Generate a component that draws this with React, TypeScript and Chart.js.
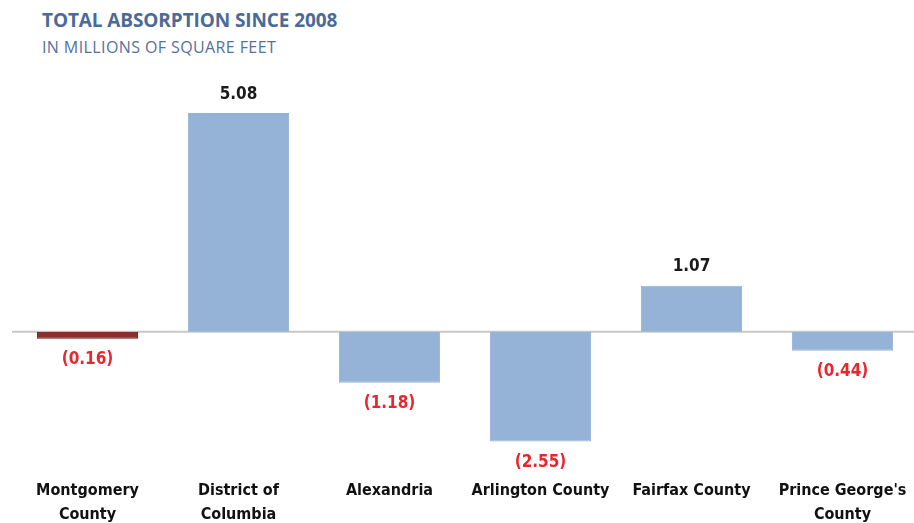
import React, { useEffect, useRef } from "react";
import { Chart, registerables } from "chart.js";

Chart.register(...registerables);

const categories: string[][] = [
  ["Montgomery", "County"],
  ["District of", "Columbia"],
  ["Alexandria"],
  ["Arlington County"],
  ["Fairfax County"],
  ["Prince George's", "County"],
];
const absorption: number[] = [-0.16, 5.08, -1.18, -2.55, 1.07, -0.44];
const barColors: string[] = ["#8C2E2C", "#95B3D7", "#95B3D7", "#95B3D7", "#95B3D7", "#95B3D7"];
const borderColors: string[] = ["#5E1B1A", "#95B3D7", "#95B3D7", "#95B3D7", "#95B3D7", "#95B3D7"];
const titleText = "TOTAL ABSORPTION SINCE 2008";
const subtitleText = "IN MILLIONS OF SQUARE FEET";

const FONT = "'Liberation Sans Narrow', 'DejaVu Sans Condensed', 'Liberation Sans', sans-serif";

const fmt = (v: number) => (v < 0 ? `(${Math.abs(v).toFixed(2)})` : v.toFixed(2));

const zeroLinePlugin = {
  id: "zeroLine",
  beforeDatasetsDraw(chart: any) {
    const { ctx, chartArea, scales } = chart;
    const y = scales.y.getPixelForValue(0);
    ctx.save();
    ctx.strokeStyle = "#C8C8C8";
    ctx.lineWidth = 2;
    ctx.beginPath();
    ctx.moveTo(chartArea.left, y);
    ctx.lineTo(chart.width, y);
    ctx.stroke();
    ctx.restore();
  },
};

const valueLabelPlugin = {
  id: "valueLabels",
  afterDatasetsDraw(chart: any) {
    const { ctx } = chart;
    const meta = chart.getDatasetMeta(0);
    const data = chart.data.datasets[0].data as number[];
    ctx.save();
    ctx.font = `bold 17px ${FONT}`;
    ctx.textAlign = "center";
    ctx.textBaseline = "middle";
    meta.data.forEach((bar: any, i: number) => {
      const v = data[i];
      const props = bar.getProps(["x", "y", "base"], true);
      if (v >= 0) {
        ctx.fillStyle = "#1A1A1A";
        ctx.fillText(fmt(v), props.x, props.y - 19);
      } else {
        ctx.fillStyle = "#E8262C";
        ctx.fillText(fmt(v), props.x, props.y + 21);
      }
    });
    ctx.restore();
  },
};

export default function App() {
  const ref = useRef<HTMLCanvasElement | null>(null);

  useEffect(() => {
    if (!ref.current) return;
    const chart = new Chart(ref.current, {
      type: "bar",
      data: {
        labels: categories,
        datasets: [
          {
            data: absorption,
            backgroundColor: barColors,
            borderColor: borderColors,
            borderWidth: 1,
            barPercentage: 0.67,
            categoryPercentage: 1,
          },
        ],
      },
      options: {
        animation: false,
        responsive: false,
        maintainAspectRatio: false,
        layout: { padding: { left: 12, right: 12, top: 95, bottom: 0 } },
        plugins: {
          legend: { display: false },
          tooltip: { enabled: false },
          title: { display: false },
        },
        scales: {
          x: {
            grid: { display: false, drawTicks: false },
            border: { display: false },
            ticks: {
              color: "#111111",
              padding: 18,
              maxRotation: 0,
              autoSkip: false,
              font: { family: FONT, size: 16, weight: "bold", lineHeight: 1.5 },
            },
            afterFit: (scale: any) => {
              scale.height = 62;
            },
          },
          y: {
            display: false,
            min: -3,
            max: 5.5,
          },
        },
      },
      plugins: [zeroLinePlugin, valueLabelPlugin],
    });
    return () => chart.destroy();
  }, []);

  return (
    <div
      style={{
        position: "fixed",
        left: 0,
        top: 0,
        width: 914,
        height: 523,
        overflow: "hidden",
        background: "#FFFFFF",
      }}
    >
      <div
        style={{
          position: "absolute",
          left: 42,
          top: 8,
          fontFamily: "'Open Sans', 'Liberation Sans', sans-serif",
          fontWeight: 700,
          fontSize: 19,
          color: "#4A6A97",
          whiteSpace: "nowrap",
          letterSpacing: -0.1,
          lineHeight: "24px",
        }}
      >
        {titleText}
      </div>
      <div
        style={{
          position: "absolute",
          left: 42,
          top: 36,
          fontFamily: "'Open Sans', 'Liberation Sans', sans-serif",
          fontWeight: 400,
          fontSize: 16,
          color: "#55719A",
          whiteSpace: "nowrap",
          letterSpacing: 0.4,
          lineHeight: "22px",
        }}
      >
        {subtitleText}
      </div>
      <canvas
        ref={ref}
        width={930}
        height={523}
        style={{ position: "absolute", left: 0, top: 0, width: 930, height: 523 }}
      />
    </div>
  );
}
